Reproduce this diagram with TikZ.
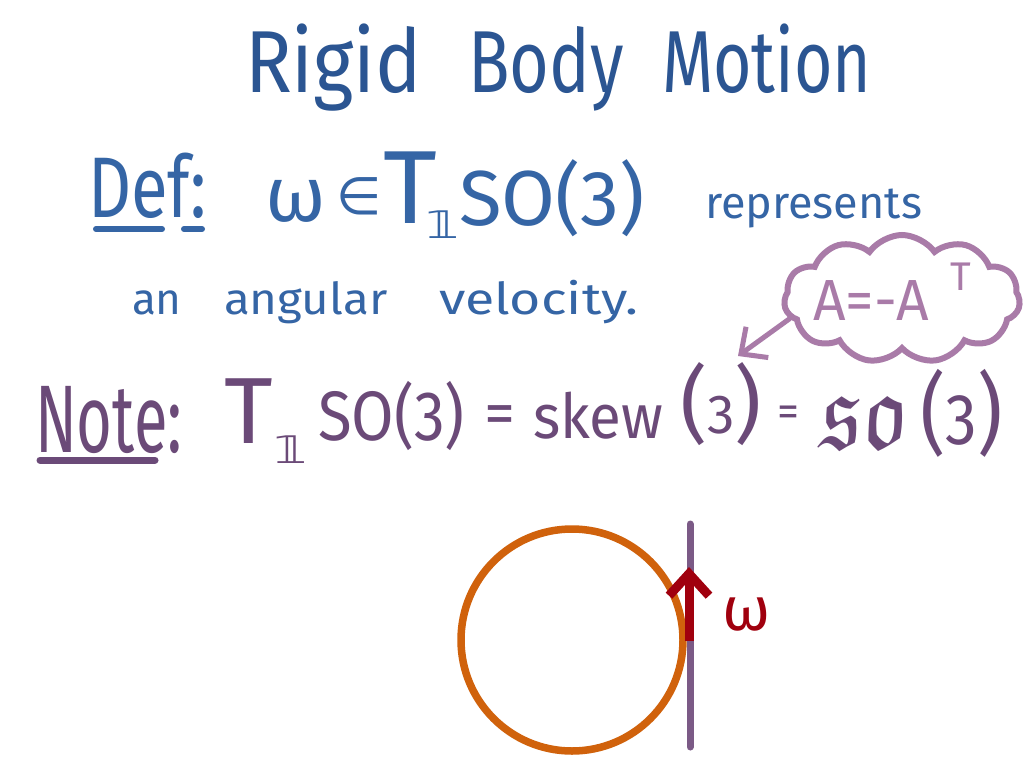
\documentclass[tikz,border=0pt]{standalone}
\usepackage{fontspec}
\usepackage{graphicx}
\usepackage{amssymb}
\setmainfont{Fira Sans}
\newfontfamily\symf{DejaVu Sans}
\usetikzlibrary{shapes.symbols,arrows.meta}
\definecolor{titleblue}{HTML}{2B5592}
\definecolor{defblue}{HTML}{3565A5}
\definecolor{notep}{HTML}{6B4A78}
\definecolor{cloudp}{HTML}{A97BA8}
\definecolor{orangec}{HTML}{D0620C}
\definecolor{redc}{HTML}{A0000E}
\definecolor{axisp}{HTML}{7B5A86}
\newcommand{\fs}[1]{\fontsize{#1}{#1}\selectfont}
\begin{document}
\begin{tikzpicture}[x=1pt,y=-1pt,
  txt/.style={anchor=base west, inner sep=0pt, outer sep=0pt},
  uline/.style={line width=6, line cap=round}]
\useasboundingbox[fill=white] (0,0) rectangle (1024,768);

% title
\node[txt, text=titleblue, font=\fs{88}, xscale=0.88] (t1) at (245,92) {Rigid};
\node[txt, text=titleblue, font=\fs{88}, xscale=0.775] (t2) at (468,92) {Body};
\node[txt, text=titleblue, font=\fs{88}, xscale=0.75] (t3) at (662,92) {Motion};

% Def line
\node[txt, text=defblue, font=\fs{86}, xscale=0.78] (def) at (88,217) {Def:};
\coordinate (du1) at (96,229); \coordinate (du2) at (162,229);
\coordinate (du3) at (184,229); \coordinate (du4) at (202,229);
\draw[defblue, uline] (du1) -- (du2);
\draw[defblue, uline] (du3) -- (du4);
\node[txt, text=defblue, font=\fs{78}] (w1) at (265,221) {ω};
\node[txt, text=defblue, font=\symf\fs{52}] (in1) at (336,214) {∈};
\node[txt, text=defblue, font=\fs{104}] (T1) at (383,223) {T};
\node[txt, text=defblue, font=\symf\fs{38}, xscale=1.35] (sub1) at (426,238) {𝟙};
\node[txt, text=defblue, font=\fs{78}] (so1) at (459,225) {SO(3)};
\node[txt, text=defblue, font=\fs{45}] (rep) at (705,218) {represents};

% second line
\node[txt, text=defblue, font=\fs{44}] (an) at (132,314) {an};
\node[txt, text=defblue, font=\fs{44}, xscale=1.08] (ang) at (224,314) {angular};
\node[txt, text=defblue, font=\fs{44}, xscale=1.22] (vel) at (439,314) {velocity.};

% cloud
\node[cloud, draw=cloudp, line width=6, cloud puffs=11, cloud puff arc=110,
      aspect=1.9, minimum width=236, minimum height=128, inner sep=0pt] (cloud) at (902,299) {};
\node[txt, text=cloudp, font=\fs{58}, xscale=0.98] (aeq) at (813,320) {A=-A};
\node[txt, text=cloudp, font=\fs{40}] (aT) at (950,290) {T};
\coordinate (ctip) at (738,356);
\draw[cloudp, line width=5, line cap=round, -{Straight Barb[length=20pt,width=38pt]}] (cloud.190) -- (ctip);

% Note line
\node[txt, text=notep, font=\fs{96}, xscale=0.64] (note) at (35,452) {Note:};
\coordinate (nu1) at (40,460); \coordinate (nu2) at (155,460);
\draw[notep, uline, line width=7] (nu1) -- (nu2);
\node[txt, text=notep, font=\fs{94}] (T2) at (224,443) {T};
\node[txt, text=notep, font=\symf\fs{38}, xscale=1.35] (sub2) at (274,463) {𝟙};
\node[txt, text=notep, font=\fs{70}, xscale=0.88] (so2) at (318,440) {SO(3)};
\node[txt, text=notep, font=\fs{62}] (eq1) at (484,434) {=};
\node[txt, text=notep, font=\fs{62}, xscale=0.94] (skew) at (533,438) {skew};
\node[txt, text=notep] (sk3) at (680,433) {\fs{84}(\fs{55}3\fs{84})};
\node[txt, text=notep, font=\fs{44}] (eq2) at (777,426) {=};
\node[txt, text=notep] (frak) at (820,448) {\scalebox{9.7}[10.8]{$\mathfrak{so}$}};
\node[txt, text=notep, xscale=0.88] (fr3) at (920,444) {\fs{89}(\fs{72}3\fs{89})};

% rigid body sketch
\node[draw=orangec, circle, line width=7.5, minimum size=222, inner sep=0pt] (disk) at (572,640) {};
\coordinate (ltop) at (690,524); \coordinate (lbot) at (690,747);
\draw[axisp, line width=7, line cap=round] (ltop) -- (lbot);
\coordinate (abase) at (689,641); \coordinate (atip) at (689,567);
\draw[redc, line width=9, -{Straight Barb[length=22pt,width=40pt]}] (abase) -- (atip);
\node[txt, text=redc, font=\fs{62}] (wl) at (722,630) {ω};
\end{tikzpicture}
\end{document}
